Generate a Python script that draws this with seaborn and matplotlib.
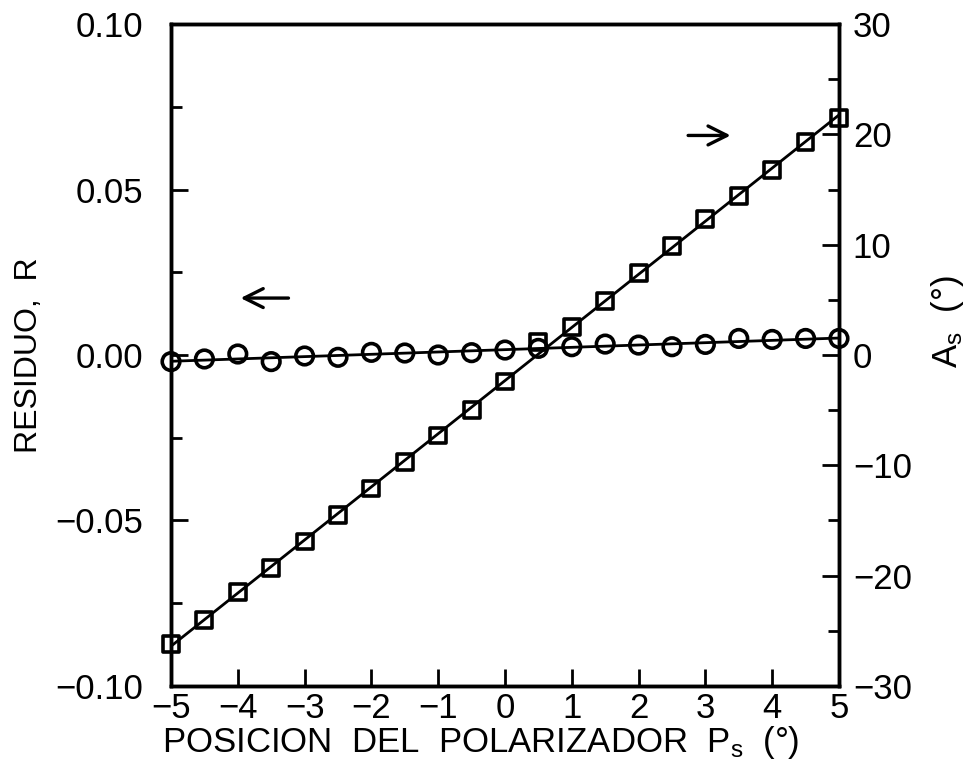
import numpy as np
import pandas as pd
import seaborn as sns
import matplotlib.pyplot as plt
from matplotlib.ticker import MultipleLocator, FuncFormatter

# Posicion del polarizador Ps (grados)
posicion = [-5.0, -4.5, -4.0, -3.5, -3.0, -2.5, -2.0, -1.5, -1.0, -0.5, 0.0,
            0.5, 1.0, 1.5, 2.0, 2.5, 3.0, 3.5, 4.0, 4.5, 5.0]

# Residuo R (eje izquierdo, circulos)
residuo = [-0.0020, -0.0012, 0.0003, -0.0020, -0.0003, -0.0007, 0.0008,
           0.0006, 0.0000, 0.0007, 0.0015, 0.0020, 0.0025, 0.0033, 0.0030,
           0.0025, 0.0032, 0.0050, 0.0047, 0.0050, 0.0050]

# Angulo As (eje derecho, cuadrados)
angulo_as = [-26.2, -24.0, -21.5, -19.3, -16.9, -14.5, -12.1, -9.7, -7.3,
             -5.0, -2.4, 1.2, 2.5, 4.9, 7.4, 9.9, 12.3, 14.4, 16.8, 19.3, 21.5]

df = pd.DataFrame({"P": posicion, "R": residuo, "A": angulo_as})

sns.set_style("ticks")
plt.rcParams["font.family"] = ["Liberation Sans", "DejaVu Sans"]
plt.rcParams["mathtext.fontset"] = "custom"
plt.rcParams["mathtext.rm"] = "Liberation Sans"
plt.rcParams["mathtext.it"] = "Liberation Sans"
plt.rcParams["text.color"] = "black"
plt.rcParams["axes.labelcolor"] = "black"
plt.rcParams["xtick.color"] = "black"
plt.rcParams["ytick.color"] = "black"

fig = plt.figure(figsize=(9.8, 7.65), dpi=100)
ax = fig.add_axes([0.1745, 0.1033, 0.6816, 0.8653])
ax2 = ax.twinx()

sns.regplot(data=df, x="P", y="R", ax=ax, ci=None, marker="o",
            scatter_kws={"s": 160, "facecolors": "none", "alpha": 1,
                         "edgecolors": "black", "linewidths": 2.6,
                         "clip_on": False, "zorder": 4},
            line_kws={"color": "black", "linewidth": 2.0})
sns.regplot(data=df, x="P", y="A", ax=ax2, ci=None, marker="s",
            scatter_kws={"s": 130, "facecolors": "none", "alpha": 1,
                         "edgecolors": "black", "linewidths": 2.6,
                         "clip_on": False, "zorder": 4},
            line_kws={"color": "black", "linewidth": 2.0})

ax.set_xlim(-5, 5)
ax.set_ylim(-0.10, 0.10)
ax2.set_ylim(-30, 30)

ax.xaxis.set_major_locator(MultipleLocator(1))
ax.yaxis.set_major_locator(MultipleLocator(0.05))
ax.yaxis.set_minor_locator(MultipleLocator(0.025))
ax2.yaxis.set_major_locator(MultipleLocator(10))
ax2.yaxis.set_minor_locator(MultipleLocator(5))

ax.xaxis.set_major_formatter(FuncFormatter(lambda v, p: f"{v:.0f}".replace("-", "\u2212")))
ax.yaxis.set_major_formatter(FuncFormatter(lambda v, p: f"{v:.2f}".replace("-", "\u2212")))
ax2.yaxis.set_major_formatter(FuncFormatter(lambda v, p: f"{v:.0f}".replace("-", "\u2212")))

ax.tick_params(axis="x", which="major", direction="in", length=12, width=2,
               labelsize=25, pad=4, top=False)
ax.tick_params(axis="y", which="major", direction="in", length=12, width=2,
               labelsize=25, pad=20, right=False)
ax.tick_params(axis="y", which="minor", direction="in", length=8, width=2,
               right=False)
ax2.tick_params(axis="y", which="major", direction="in", length=12, width=2,
                labelsize=25, pad=10)
ax2.tick_params(axis="y", which="minor", direction="in", length=8, width=2)

for a in (ax, ax2):
    for s in a.spines.values():
        s.set_linewidth(2.5)
        s.set_color("black")

ax.set_xlabel(r"POSICION  DEL  POLARIZADOR  P$_\mathrm{s}$  (°)", fontsize=25)
ax.xaxis.set_label_coords(0.463, -0.058)
ax.set_ylabel("RESIDUO,  R", fontsize=23, labelpad=8)
ax2.set_ylabel(r"A$_\mathrm{s}$  (°)", fontsize=25)
ax2.yaxis.set_label_coords(1.135, 0.55)

# flechas que indican el eje de cada serie
ax.annotate("", xy=(-4.0, 0.0172), xytext=(-3.2, 0.0172),
            arrowprops=dict(arrowstyle="->", color="black", lw=2.4,
                            mutation_scale=34))
ax2.annotate("", xy=(3.42, 19.9), xytext=(2.7, 19.9),
             arrowprops=dict(arrowstyle="->", color="black", lw=2.4,
                             mutation_scale=34))

fig.savefig("out.png", dpi=100)
